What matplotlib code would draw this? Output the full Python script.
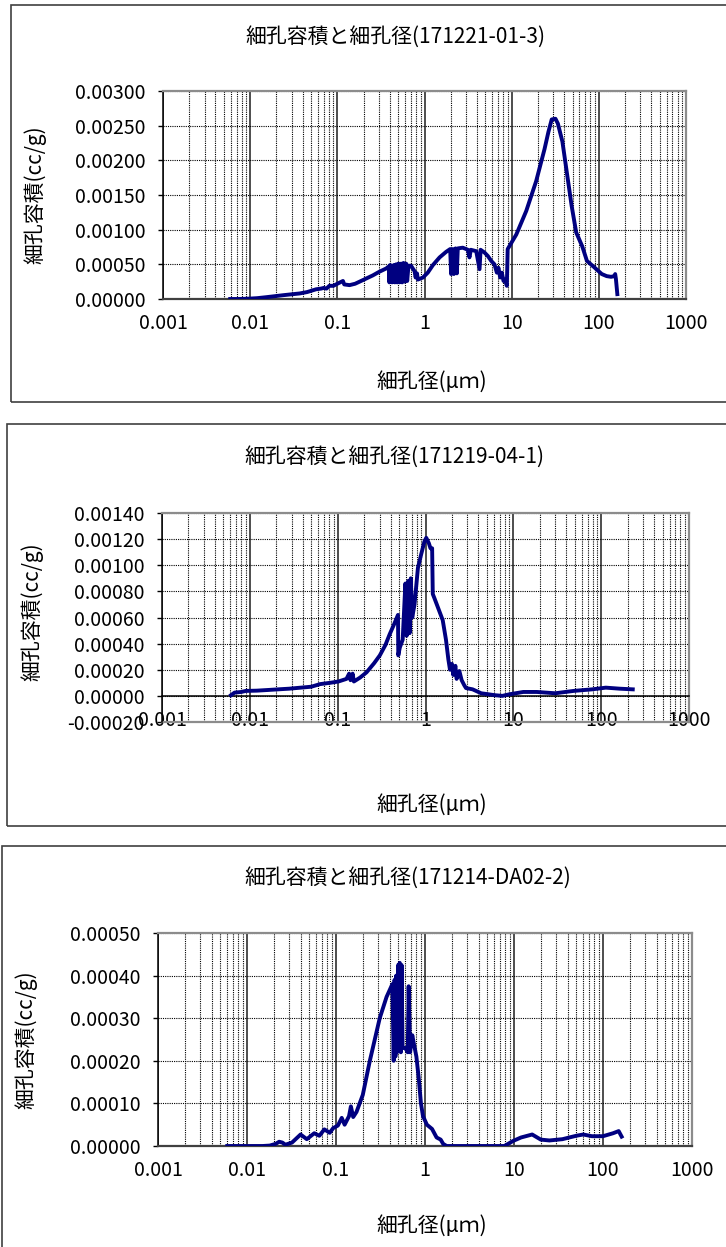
import matplotlib
matplotlib.use("Agg")
import matplotlib.pyplot as plt
from matplotlib.patches import Rectangle
from matplotlib.ticker import FormatStrFormatter, LogLocator, NullFormatter, MultipleLocator

plt.rcParams['font.family'] = ['Noto Sans CJK JP', 'DejaVu Sans']

W, H = 726, 1247

# pore diameter (um) / pore volume (cc/g)
# 171221-01-3
diam_1 = [0.0059, 0.007, 0.0085, 0.010, 0.012, 0.015, 0.019, 0.024, 0.030, 0.037,
          0.045, 0.057, 0.065, 0.070, 0.075, 0.081, 0.090, 0.100, 0.116, 0.120,
          0.138, 0.16, 0.18, 0.21, 0.255, 0.30, 0.363, 0.39, 0.395, 0.404,
          0.415, 0.425, 0.445, 0.457, 0.473, 0.486, 0.503, 0.516, 0.539, 0.554,
          0.574, 0.594, 0.616, 0.633, 0.655, 0.70, 0.77, 0.79, 0.82, 0.84,
          0.96, 1.09, 1.25, 1.49, 1.77, 1.97, 2.02, 2.11, 2.17, 2.27,
          2.35, 2.41, 2.75, 3.14, 3.28, 3.40, 3.92, 4.28, 4.40, 4.88,
          5.33, 5.82, 6.35, 6.76, 7.06, 7.38, 7.71, 8.06, 8.42, 8.80,
          9.0, 11.3, 14.7, 19.1, 23.8, 26.4, 28.8, 31.8, 33.9, 38.2,
          43, 48.8, 55, 64.5, 73, 90, 108, 123, 138, 151,
          154, 157, 163]
vol_1 = [0.0, 0.0, 0.000002, 0.000006, 0.000012, 0.000025, 0.000040, 0.000055, 0.000068, 0.000080,
         0.000100, 0.000140, 0.000150, 0.000160, 0.000150, 0.000190, 0.000190, 0.000220, 0.000260, 0.000210,
         0.00020, 0.00022, 0.00025, 0.00029, 0.00034, 0.00039, 0.00044, 0.00047, 0.00024, 0.00049,
         0.00048, 0.00024, 0.00049, 0.00024, 0.00050, 0.00024, 0.00051, 0.00024, 0.00051, 0.00024,
         0.00052, 0.00025, 0.00051, 0.00026, 0.00048, 0.00048, 0.00040, 0.00031, 0.00037, 0.00028,
         0.00031, 0.00038, 0.00049, 0.00060, 0.00068, 0.00072, 0.00036, 0.00072, 0.00036, 0.00073,
         0.00037, 0.00073, 0.00074, 0.00071, 0.00060, 0.00071, 0.00069, 0.00043, 0.00071, 0.00067,
         0.00062, 0.00055, 0.00050, 0.00038, 0.00045, 0.00031, 0.00038, 0.00026, 0.00028, 0.00019,
         0.00072, 0.00093, 0.00127, 0.00170, 0.00216, 0.00241, 0.00259, 0.00260, 0.00253, 0.00227,
         0.00182, 0.00134, 0.00096, 0.00076, 0.00055, 0.00045, 0.00036, 0.00033, 0.00032, 0.00033,
         0.00036, 0.00029, 0.00007]

# 171219-04-1
diam_2 = [0.0061, 0.0067, 0.008, 0.009, 0.012, 0.016, 0.021, 0.028, 0.038, 0.050,
          0.063, 0.082, 0.102, 0.126, 0.135, 0.140, 0.148, 0.153, 0.18, 0.213,
          0.26, 0.302, 0.35, 0.39, 0.44, 0.486, 0.49, 0.51, 0.55, 0.59,
          0.61, 0.636, 0.659, 0.68, 0.706, 0.75, 0.82, 0.89, 0.97, 1.02,
          1.09, 1.14, 1.19, 1.21, 1.26, 1.38, 1.57, 1.71, 1.82, 1.90,
          2.00, 2.07, 2.19, 2.26, 2.43, 2.58, 2.77, 2.89, 3.44, 4.3,
          6.2, 7.5, 9.0, 13, 18.5, 30, 48.6, 79, 113, 163,
          229]
vol_2 = [0.000005, 0.000025, 0.000030, 0.000038, 0.000040, 0.000045, 0.000050, 0.000055, 0.000063, 0.000070,
         0.000090, 0.000100, 0.000110, 0.000130, 0.000170, 0.000120, 0.000170, 0.000110, 0.00014, 0.00018,
         0.00025, 0.00031, 0.00039, 0.00047, 0.00055, 0.00062, 0.00031, 0.00037, 0.00043, 0.00086,
         0.00046, 0.00088, 0.00048, 0.00090, 0.00060, 0.00070, 0.00098, 0.00108, 0.00118, 0.00121,
         0.00117, 0.00113, 0.00113, 0.00078, 0.00075, 0.00068, 0.00058, 0.00043, 0.00028, 0.00020,
         0.000245, 0.00016, 0.00023, 0.00013, 0.00019, 0.00012, 0.00008, 0.00006, 0.00005, 0.00002,
         0.000005, 0.0, 0.000012, 0.00003, 0.00003, 0.00002, 0.000038, 0.00005, 0.000063, 0.000055,
         0.00005]

# 171214-DA02-2
diam_3 = [0.006, 0.010, 0.015, 0.018, 0.021, 0.023, 0.025, 0.027, 0.032, 0.040,
          0.047, 0.057, 0.065, 0.074, 0.085, 0.093, 0.105, 0.116, 0.125, 0.140,
          0.147, 0.156, 0.17, 0.20, 0.24, 0.31, 0.37, 0.43, 0.445, 0.455,
          0.465, 0.475, 0.485, 0.50, 0.51, 0.52, 0.535, 0.545, 0.56, 0.60,
          0.64, 0.655, 0.68, 0.72, 0.75, 0.80, 0.85, 0.90, 0.95, 1.05,
          1.2, 1.35, 1.5, 1.6, 1.75, 3.0, 5.0, 7.8, 9.8, 12,
          16, 20, 25, 35, 50, 60, 75, 100, 130, 150,
          162]
vol_3 = [0.0, 0.0, 0.0, 0.000001, 0.000005, 0.000010, 0.000008, 0.000003, 0.000008, 0.000027,
         0.000016, 0.000030, 0.000024, 0.000039, 0.000031, 0.000042, 0.000048, 0.000066, 0.000050, 0.000070,
         0.000093, 0.000068, 0.00008, 0.00012, 0.00020, 0.00030, 0.00035, 0.00038, 0.00020, 0.00039,
         0.00021, 0.00040, 0.00022, 0.000425, 0.00023, 0.00043, 0.00022, 0.000425, 0.00023, 0.00023,
         0.00022, 0.000375, 0.00022, 0.00026, 0.00024, 0.00021, 0.00016, 0.00010, 0.00007, 0.00005,
         0.00004, 0.00002, 0.000015, 0.000005, 0.0, 0.0, 0.0, 0.0, 0.000012, 0.00002,
         0.000027, 0.000015, 0.000013, 0.000016, 0.000024, 0.000027, 0.000023, 0.000023, 0.00003, 0.000035,
         0.000022]

titles = ['細孔容積と細孔径(171221-01-3)',
          '細孔容積と細孔径(171219-04-1)',
          '細孔容積と細孔径(171214-DA02-2)']
x_label = '細孔径(μｍ)'
y_label = '細孔容積(cc/g)'
x_ticks = [0.001, 0.01, 0.1, 1, 10, 100, 1000]
x_tick_labels = ['0.001', '0.01', '0.1', '1', '10', '100', '1000']

# y range and step for each chart
y_ranges = [(0.0, 0.003, 0.0005), (-0.0002, 0.0014, 0.0002), (0.0, 0.0005, 0.0001)]

LINE = '#000080'


def fx(px):
    return px / W


def fy(py):
    return 1 - py / H


def add_axes_px(fig, left, top, right, bottom):
    return fig.add_axes([fx(left), fy(bottom), (right - left) / W, (bottom - top) / H])


def draw_panel(ax, diam, vol, yr):
    ymin, ymax, ystep = yr
    ax.plot(diam, vol, color=LINE, lw=2.8, solid_joinstyle='round', zorder=3)
    ax.set_xscale('log')
    ax.set_xlim(0.001, 1000)
    ax.set_ylim(ymin, ymax)
    ax.xaxis.set_minor_locator(LogLocator(base=10, subs=range(2, 10), numticks=20))
    ax.xaxis.set_minor_formatter(NullFormatter())
    ax.set_xticks(x_ticks)
    ax.set_xticklabels(x_tick_labels)
    ax.yaxis.set_major_locator(MultipleLocator(ystep))
    ax.yaxis.set_major_formatter(FormatStrFormatter('%.5f'))
    ax.grid(which='major', axis='x', color='#4d4d4d', lw=1.4, ls='-')
    ax.grid(which='minor', axis='x', color='black', lw=0.8, ls=(0, (1, 1)))
    ax.grid(which='major', axis='y', color='black', lw=0.8, ls=(0, (1, 1)))
    ax.set_axisbelow(True)
    ax.tick_params(axis='x', which='both', length=0, pad=10, labelsize=14)
    ax.tick_params(axis='y', which='major', direction='out', length=3.6, width=1,
                   pad=9, labelsize=14)
    ax.tick_params(axis='y', which='minor', length=0)
    for s in ('top', 'right'):
        ax.spines[s].set_color('#8c8c8c')
        ax.spines[s].set_linewidth(1.6)
    ax.spines['left'].set_color('black')
    ax.spines['left'].set_linewidth(1.1)
    ax.spines['bottom'].set_color('#404040')
    ax.spines['bottom'].set_linewidth(1.6)
    if ymin < 0:
        # horizontal axis crosses at zero, plot-area border at the bottom
        ax.spines['bottom'].set_position(('data', 0))
        ax.spines['bottom'].set_color('black')
        ax.spines['bottom'].set_linewidth(1.1)
        ax.axhline(ymin, color='#8c8c8c', lw=1.6, clip_on=False, zorder=2)


fig = plt.figure(figsize=(W / 100, H / 100), dpi=100)
fig.patch.set_facecolor('white')

# outer chart frames (right side runs past the edge)
frames = [(11, 5, 402), (7, 424, 826), (2, 846, 1260)]
for left, top, bottom in frames:
    fig.add_artist(Rectangle((fx(left), fy(bottom)), 1.2, (bottom - top) / H,
                             transform=fig.transFigure, fill=False,
                             edgecolor='#404040', lw=1.2))

axes_px = [(163, 91, 686, 299), (162, 513, 689, 722), (158, 933, 692, 1146)]
title_pos = [(395, 37), (394, 457), (408, 878)]
xlabel_pos = [(432, 382), (432, 805), (432, 1226)]
ylabel_pos = [(35, 195), (32, 612), (26, 1040)]

series = [(diam_1, vol_1), (diam_2, vol_2), (diam_3, vol_3)]

for i in range(3):
    ax = add_axes_px(fig, *axes_px[i])
    draw_panel(ax, series[i][0], series[i][1], y_ranges[i])
    tx, ty = title_pos[i]
    fig.text(fx(tx), fy(ty), titles[i], ha='center', va='center', fontsize=15)
    lx, ly = xlabel_pos[i]
    fig.text(fx(lx), fy(ly), x_label, ha='center', va='center', fontsize=15)
    yx, yy = ylabel_pos[i]
    fig.text(fx(yx), fy(yy), y_label, ha='center', va='center', fontsize=15, rotation=90)

fig.savefig('out.png', dpi=100)
